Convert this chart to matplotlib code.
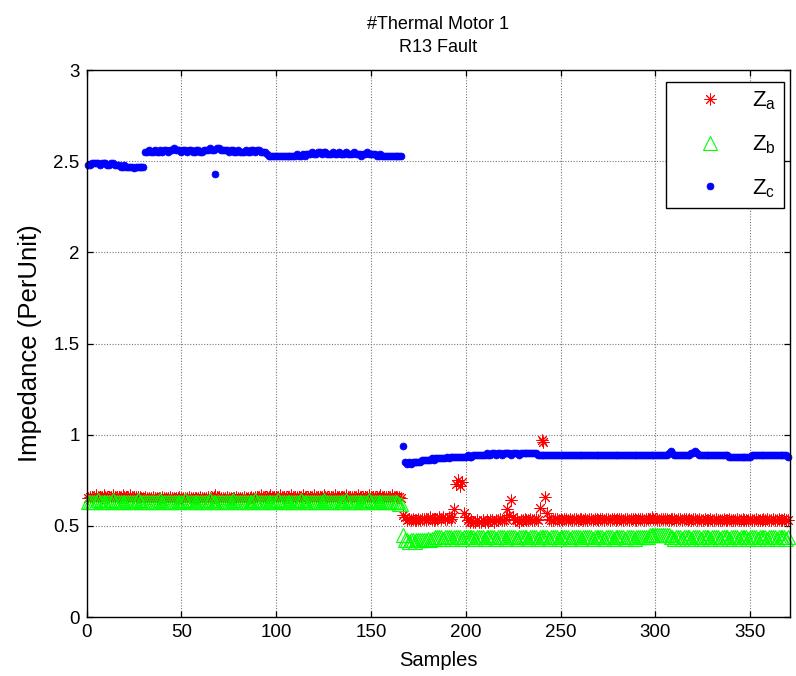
import matplotlib
matplotlib.use("Agg")
import matplotlib.pyplot as plt
from matplotlib import font_manager
import numpy as np

# ---- impedance readings (per unit), one value per sample ----
za_pre = [
    0.65, 0.66, 0.66, 0.66, 0.67, 0.66, 0.66, 0.66, 0.67, 0.66, 0.66, 0.66, 0.66, 0.67, 0.66, 0.66, 0.66, 0.66, 0.67, 0.66,
    0.66, 0.66, 0.67, 0.66, 0.66, 0.66, 0.66, 0.66, 0.65, 0.65, 0.66, 0.65, 0.65, 0.65, 0.66, 0.65, 0.65, 0.65, 0.65, 0.66,
    0.65, 0.65, 0.65, 0.66, 0.65, 0.65, 0.65, 0.65, 0.66, 0.65, 0.65, 0.65, 0.65, 0.66, 0.65, 0.65, 0.65, 0.65, 0.65, 0.66,
    0.65, 0.65, 0.65, 0.66, 0.65, 0.65, 0.66, 0.67, 0.66, 0.65, 0.65, 0.65, 0.65, 0.66, 0.65, 0.65, 0.65, 0.65, 0.66, 0.65,
    0.65, 0.65, 0.66, 0.65, 0.65, 0.65, 0.66, 0.65, 0.66, 0.66, 0.66, 0.67, 0.66, 0.66, 0.66, 0.66, 0.67, 0.66, 0.66, 0.66,
    0.66, 0.67, 0.66, 0.66, 0.66, 0.66, 0.66, 0.67, 0.66, 0.66, 0.66, 0.66, 0.66, 0.67, 0.66, 0.66, 0.66, 0.66, 0.66, 0.67,
    0.66, 0.66, 0.66, 0.66, 0.67, 0.66, 0.66, 0.66, 0.66, 0.66, 0.67, 0.66, 0.66, 0.66, 0.66, 0.66, 0.67, 0.66, 0.66, 0.66,
    0.66, 0.66, 0.67, 0.66, 0.66, 0.66, 0.66, 0.66, 0.67, 0.66, 0.66, 0.66, 0.66, 0.66, 0.67, 0.66, 0.66, 0.66, 0.66, 0.66,
    0.67, 0.66, 0.66, 0.66, 0.66, 0.65,
]
za_post = [
    0.56, 0.55, 0.53, 0.54, 0.53, 0.54, 0.53, 0.53, 0.54, 0.53, 0.54, 0.54, 0.53, 0.54, 0.55, 0.54, 0.53, 0.54, 0.54, 0.55,
    0.54, 0.55, 0.54, 0.54, 0.55, 0.54, 0.55, 0.59, 0.73, 0.75, 0.72, 0.74, 0.57, 0.55, 0.53, 0.52, 0.53, 0.52, 0.52, 0.53,
    0.52, 0.52, 0.53, 0.52, 0.53, 0.52, 0.53, 0.53, 0.52, 0.53, 0.53, 0.54, 0.53, 0.53, 0.54, 0.59, 0.56, 0.64, 0.55, 0.53,
    0.53, 0.52, 0.53, 0.53, 0.54, 0.53, 0.53, 0.54, 0.53, 0.53, 0.54, 0.53, 0.60, 0.97, 0.96, 0.66, 0.57, 0.54, 0.53, 0.53,
    0.54, 0.54, 0.53, 0.54, 0.53, 0.54, 0.54, 0.53, 0.54, 0.53, 0.54, 0.54, 0.53, 0.54, 0.54, 0.53, 0.54, 0.53, 0.54, 0.54,
    0.53, 0.54, 0.54, 0.53, 0.54, 0.54, 0.53, 0.54, 0.54, 0.53, 0.54, 0.54, 0.53, 0.54, 0.54, 0.54, 0.53, 0.54, 0.54, 0.53,
    0.54, 0.54, 0.54, 0.53, 0.54, 0.54, 0.54, 0.53, 0.54, 0.54, 0.54, 0.55, 0.54, 0.54, 0.54, 0.53, 0.54, 0.54, 0.54, 0.54,
    0.53, 0.54, 0.54, 0.54, 0.53, 0.54, 0.54, 0.53, 0.54, 0.54, 0.53, 0.54, 0.53, 0.54, 0.54, 0.53, 0.54, 0.53, 0.53, 0.54,
    0.53, 0.53, 0.54, 0.53, 0.53, 0.54, 0.53, 0.53, 0.53, 0.54, 0.53, 0.53, 0.54, 0.53, 0.53, 0.53, 0.54, 0.53, 0.53, 0.54,
    0.53, 0.53, 0.53, 0.54, 0.53, 0.53, 0.54, 0.53, 0.53, 0.53, 0.54, 0.53, 0.54, 0.53, 0.53, 0.54, 0.53, 0.53, 0.54, 0.53,
    0.53, 0.54, 0.53, 0.53,
]

zb_pre = [
    0.63, 0.63, 0.63, 0.63, 0.63, 0.64, 0.63, 0.63, 0.63, 0.63, 0.63, 0.63, 0.63, 0.64, 0.63, 0.63, 0.63, 0.63, 0.63, 0.63,
    0.63, 0.63, 0.63, 0.63, 0.63, 0.63, 0.64, 0.63, 0.63, 0.63, 0.63, 0.63, 0.63, 0.63, 0.63, 0.63, 0.63, 0.63, 0.64, 0.63,
    0.63, 0.63, 0.63, 0.63, 0.63, 0.63, 0.63, 0.63, 0.63, 0.63, 0.63, 0.64, 0.63, 0.63, 0.63, 0.63, 0.63, 0.63, 0.63, 0.63,
    0.63, 0.63, 0.63, 0.63, 0.64, 0.63, 0.63, 0.63, 0.63, 0.63, 0.63, 0.63, 0.63, 0.63, 0.63, 0.63, 0.64, 0.63, 0.63, 0.63,
    0.63, 0.63, 0.63, 0.63, 0.63, 0.63, 0.63, 0.63, 0.64, 0.63, 0.63, 0.63, 0.63, 0.63, 0.63, 0.63, 0.63, 0.63, 0.63, 0.63,
    0.64, 0.63, 0.63, 0.63, 0.63, 0.63, 0.63, 0.63, 0.63, 0.63, 0.63, 0.63, 0.64, 0.63, 0.63, 0.63, 0.63, 0.63, 0.63, 0.63,
    0.63, 0.63, 0.63, 0.63, 0.64, 0.63, 0.63, 0.63, 0.63, 0.63, 0.63, 0.63, 0.63, 0.63, 0.63, 0.63, 0.64, 0.63, 0.63, 0.63,
    0.63, 0.63, 0.63, 0.63, 0.63, 0.63, 0.63, 0.63, 0.64, 0.63, 0.63, 0.63, 0.63, 0.63, 0.63, 0.63, 0.63, 0.63, 0.63, 0.63,
    0.63, 0.63, 0.63, 0.63, 0.62, 0.62,
]
zb_post = [
    0.45, 0.42, 0.42, 0.41, 0.42, 0.42, 0.41, 0.42, 0.42, 0.42, 0.42, 0.42, 0.42, 0.43, 0.42, 0.43, 0.43, 0.44, 0.44, 0.44,
    0.44, 0.43, 0.44, 0.44, 0.44, 0.44, 0.43, 0.44, 0.44, 0.44, 0.44, 0.43, 0.44, 0.44, 0.44, 0.44, 0.44, 0.44, 0.43, 0.44,
    0.44, 0.44, 0.44, 0.43, 0.44, 0.44, 0.44, 0.44, 0.44, 0.43, 0.44, 0.44, 0.44, 0.44, 0.43, 0.44, 0.44, 0.44, 0.44, 0.44,
    0.43, 0.44, 0.44, 0.44, 0.44, 0.44, 0.43, 0.44, 0.44, 0.44, 0.44, 0.43, 0.44, 0.44, 0.44, 0.44, 0.44, 0.43, 0.44, 0.44,
    0.44, 0.44, 0.43, 0.44, 0.44, 0.44, 0.44, 0.44, 0.43, 0.44, 0.44, 0.44, 0.44, 0.44, 0.43, 0.44, 0.44, 0.44, 0.44, 0.44,
    0.43, 0.44, 0.44, 0.44, 0.44, 0.44, 0.43, 0.44, 0.44, 0.44, 0.44, 0.43, 0.44, 0.44, 0.44, 0.44, 0.44, 0.43, 0.44, 0.44,
    0.44, 0.44, 0.43, 0.44, 0.44, 0.44, 0.44, 0.44, 0.44, 0.44, 0.45, 0.45, 0.45, 0.45, 0.45, 0.45, 0.45, 0.45, 0.45, 0.45,
    0.45, 0.44, 0.44, 0.43, 0.44, 0.44, 0.44, 0.43, 0.44, 0.44, 0.44, 0.44, 0.43, 0.44, 0.44, 0.44, 0.44, 0.43, 0.44, 0.44,
    0.44, 0.44, 0.43, 0.44, 0.44, 0.44, 0.44, 0.43, 0.44, 0.44, 0.44, 0.44, 0.43, 0.44, 0.44, 0.44, 0.44, 0.43, 0.44, 0.44,
    0.44, 0.44, 0.43, 0.44, 0.44, 0.44, 0.44, 0.43, 0.44, 0.44, 0.44, 0.44, 0.43, 0.44, 0.44, 0.44, 0.44, 0.43, 0.44, 0.44,
    0.44, 0.44, 0.43, 0.44,
]

zc_pre = [
    2.48, 2.48, 2.49, 2.49, 2.49, 2.49, 2.48, 2.49, 2.49, 2.49, 2.48, 2.48, 2.49, 2.49, 2.48, 2.48, 2.48, 2.47, 2.47, 2.48,
    2.47, 2.47, 2.47, 2.47, 2.46, 2.47, 2.47, 2.47, 2.47, 2.47,
    2.55, 2.55, 2.56, 2.55, 2.55, 2.56, 2.55, 2.55, 2.56, 2.55, 2.56, 2.56, 2.55, 2.56, 2.56, 2.57, 2.56, 2.56, 2.56, 2.55,
    2.56, 2.56, 2.55, 2.56, 2.56, 2.55, 2.55, 2.56, 2.56, 2.55, 2.55, 2.56, 2.56, 2.56, 2.57, 2.56, 2.56, 2.43, 2.57, 2.57,
    2.56, 2.56, 2.56, 2.56, 2.55, 2.56, 2.56, 2.55, 2.55, 2.56, 2.55, 2.55, 2.55, 2.56, 2.55, 2.55, 2.56, 2.56, 2.55, 2.56,
    2.56, 2.55, 2.55, 2.55, 2.54, 2.53, 2.53, 2.53, 2.53, 2.53, 2.53, 2.53, 2.53, 2.53, 2.53, 2.53, 2.53, 2.53, 2.53, 2.53,
    2.54, 2.53, 2.53, 2.54, 2.53, 2.54, 2.54, 2.54, 2.55, 2.54, 2.54, 2.55, 2.55, 2.54, 2.55, 2.55, 2.54, 2.54, 2.54, 2.55,
    2.54, 2.54, 2.55, 2.54, 2.54, 2.54, 2.55, 2.54, 2.54, 2.54, 2.55, 2.54, 2.54, 2.54, 2.53, 2.54, 2.54, 2.55, 2.54, 2.54,
    2.54, 2.54, 2.53, 2.53, 2.54, 2.53, 2.53, 2.53, 2.53, 2.53, 2.53, 2.53, 2.53, 2.53, 2.53, 2.53,
]
zc_post = [
    0.94, 0.85, 0.84, 0.85, 0.84, 0.85, 0.85, 0.85, 0.85, 0.85, 0.86, 0.86, 0.86, 0.86, 0.86, 0.87, 0.86, 0.87, 0.87, 0.87,
    0.87, 0.87, 0.87, 0.88, 0.87, 0.88, 0.88, 0.88, 0.88, 0.88, 0.88, 0.88, 0.88, 0.88, 0.89, 0.88, 0.88, 0.89, 0.89, 0.89,
    0.89, 0.89, 0.89, 0.89, 0.90, 0.89, 0.89, 0.90, 0.90, 0.89, 0.90, 0.90, 0.89, 0.90, 0.90, 0.90, 0.90, 0.89, 0.90, 0.90,
    0.90, 0.89, 0.90, 0.90, 0.90, 0.90, 0.90, 0.90, 0.90, 0.90, 0.90, 0.89, 0.89, 0.89, 0.89, 0.89, 0.89, 0.89, 0.89, 0.89,
    0.89, 0.89, 0.89, 0.89, 0.89, 0.89, 0.89, 0.89, 0.89, 0.89, 0.89, 0.89, 0.89, 0.89, 0.89, 0.89, 0.89, 0.89, 0.89, 0.89,
    0.89, 0.89, 0.89, 0.89, 0.89, 0.89, 0.89, 0.89, 0.89, 0.89, 0.89, 0.89, 0.89, 0.89, 0.89, 0.89, 0.89, 0.89, 0.89, 0.89,
    0.89, 0.89, 0.89, 0.89, 0.89, 0.89, 0.89, 0.89, 0.89, 0.89, 0.89, 0.89, 0.89, 0.89, 0.89, 0.89, 0.89, 0.89, 0.89, 0.89,
    0.90, 0.91, 0.90, 0.89, 0.89, 0.89, 0.89, 0.89, 0.89, 0.89, 0.89, 0.89, 0.90, 0.90, 0.91, 0.90, 0.89, 0.89, 0.89, 0.89,
    0.89, 0.89, 0.89, 0.89, 0.89, 0.89, 0.89, 0.89, 0.89, 0.89, 0.89, 0.89, 0.88, 0.88, 0.88, 0.88, 0.88, 0.88, 0.88, 0.88,
    0.88, 0.88, 0.88, 0.88, 0.89, 0.89, 0.89, 0.89, 0.89, 0.89, 0.89, 0.89, 0.89, 0.89, 0.89, 0.89, 0.89, 0.89, 0.89, 0.89,
    0.89, 0.89, 0.89, 0.88,
]

za = za_pre + za_post
zb = zb_pre + zb_post
zc = zc_pre + zc_post

x_ticks = [0, 50, 100, 150, 200, 250, 300, 350]
y_ticks = [0, 0.5, 1, 1.5, 2, 2.5, 3]
y_tick_labels = ["0", "0.5", "1", "1.5", "2", "2.5", "3"]
series_labels = [r"$\mathregular{Z_a}$", r"$\mathregular{Z_b}$", r"$\mathregular{Z_c}$"]


def first_font(*names):
    available = {f.name for f in font_manager.fontManager.ttflist}
    for n in names:
        if n in available:
            return n
    return "DejaVu Sans"


regular = first_font("Liberation Sans", "Arial")

plt.rcParams["font.family"] = [regular, "DejaVu Sans"]
plt.rcParams["mathtext.fontset"] = "custom"

W, H = 796, 676
fig = plt.figure(figsize=(W / 100, H / 100), dpi=100)
ax_left, ax_right, ax_top, ax_bottom = 86.5, 790, 70, 617
ax = fig.add_axes([ax_left / W, 1 - ax_bottom / H,
                   (ax_right - ax_left) / W, (ax_bottom - ax_top) / H])


def samples(values):
    return np.arange(1, len(values) + 1)


ax.plot(samples(za), za, linestyle="none", marker=(8, 2, 0), markersize=8.5,
        markeredgewidth=0.7, color=(1, 0, 0), label=series_labels[0], clip_on=False)
ax.plot(samples(zb), zb, linestyle="none", marker="^", markersize=10.5,
        markerfacecolor="none", markeredgewidth=0.8, markeredgecolor=(0, 1, 0),
        label=series_labels[1], clip_on=False)
ax.plot(samples(zc), zc, linestyle="none", marker="o", markersize=5.0,
        markeredgewidth=0.5, color=(0, 0, 1), label=series_labels[2], clip_on=False)

ax.set_xlim(0, 371)
ax.set_ylim(0, 3)
ax.set_xticks(x_ticks)
ax.set_xticklabels([str(t) for t in x_ticks])
ax.set_yticks(y_ticks)
ax.set_yticklabels(y_tick_labels)

ax.grid(True, color="#7a7a7a", linestyle=(0, (1, 1.5)), linewidth=0.8)
ax.set_axisbelow(True)
ax.tick_params(direction="in", length=4, width=0.9, top=True, right=True,
               labelsize=13.5, pad=5, colors="black")
for sp in ax.spines.values():
    sp.set_linewidth(1.0)
    sp.set_color("black")

ax.set_xlabel("Samples", fontsize=14.5, labelpad=7)
ax.set_ylabel("Impedance (PerUnit)", fontsize=18.5, labelpad=8)
ax.set_title("#Thermal Motor 1\nR13 Fault", fontsize=13, linespacing=1.45, pad=13)

leg = ax.legend(loc="upper right", bbox_to_anchor=(0.9915, 0.978),
                prop={"size": 16},
                numpoints=1, handlelength=3.2, handletextpad=0.3,
                labelspacing=0.95, borderpad=0.35, borderaxespad=0.0,
                fancybox=False, framealpha=1, edgecolor="black")
leg.get_frame().set_linewidth(1.0)

fig.savefig("out.png", dpi=100)
